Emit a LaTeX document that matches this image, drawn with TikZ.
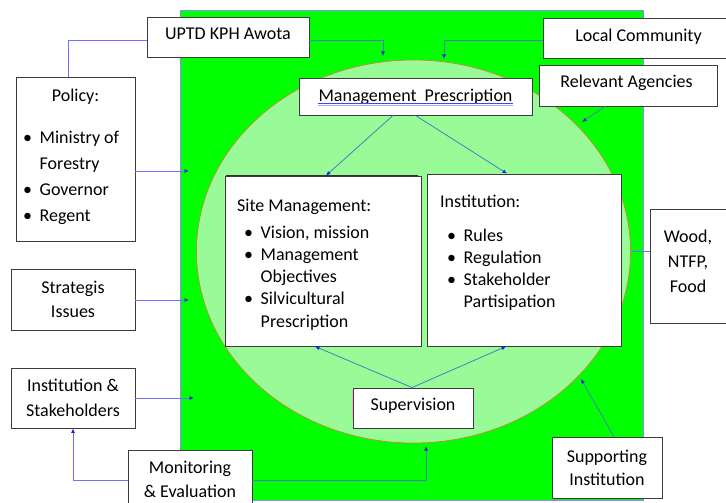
\documentclass[tikz,border=0pt]{standalone}
\usepackage{fontspec}
\setmainfont{Carlito}
\usetikzlibrary{shapes.geometric,arrows.meta,calc}

\definecolor{fieldgreen}{HTML}{00FF00}
\definecolor{coregreen}{HTML}{98FB98}
\definecolor{rim}{HTML}{C8863C}
\definecolor{violetlink}{HTML}{7070FF}
\definecolor{steellink}{HTML}{4A7EBB}
\definecolor{tipblue}{HTML}{1E1EE6}
\definecolor{boxline}{HTML}{3C3C3C}

% bullet item helpers
\newcommand\bl{\makebox[16.5pt][l]{\textbullet}}
\newcommand\ind{\hspace*{16.5pt}}

\begin{document}
\begin{tikzpicture}[x=1pt,y=-1pt,
  box/.style={draw=boxline, line width=0.9pt, fill=white, inner sep=0pt},
  txt/.style={inner sep=0pt, text=black},
  vlink/.style={draw=violetlink, line width=0.8pt},
  slink/.style={draw=steellink, line width=0.8pt},
  tip/.style={-{Latex[length=4.5pt,width=4pt,color=tipblue]}},
]
\useasboundingbox (0,0) rectangle (726,503);
\fill[white] (0,0) rectangle (726,503);

% management area and its core
\node[draw=blue!45, line width=0.6pt, fill=fieldgreen, minimum width=463pt,
      minimum height=490pt, inner sep=0pt] (field) at (411.5,255) {};
\node[ellipse, draw=rim, line width=0.7pt, fill=coregreen, minimum width=434pt,
      minimum height=383pt, inner sep=0pt] (core) at (413.5,251.5) {};

% boxes
\node[box, minimum width=162pt, minimum height=40pt] (uptd)    at (228,37) {};
\node[box, minimum width=187pt, minimum height=40pt] (local)   at (636.5,38) {};
\node[box, minimum width=178pt, minimum height=41pt] (relev)   at (628,85.5) {};
\node[box, minimum width=233pt, minimum height=37pt] (mp)      at (415.5,96.5) {};
\node[box, minimum width=119pt, minimum height=164pt] (policy) at (75.5,159) {};
\node[box, minimum width=196pt, minimum height=170pt] (site)   at (323,261) {};
\node[box, minimum width=194pt, minimum height=172pt] (inst)   at (524,260) {};
\node[box, minimum width=85pt, minimum height=114pt] (wood)    at (692.5,266) {};
\node[box, minimum width=124pt, minimum height=61pt] (strat)   at (73,299.5) {};
\node[box, minimum width=124pt, minimum height=60pt] (instk)   at (73,398) {};
\node[box, minimum width=124pt, minimum height=65pt] (monit)   at (190,482.5) {};
\node[box, minimum width=120pt, minimum height=40pt] (superv)  at (413,408) {};
\node[box, minimum width=110pt, minimum height=61pt] (support) at (607,467.5) {};

% edge accents
\draw[line width=1.8pt, black!80] ($(site.north west)+(1,0)$) -- ($(site.north east)+(-3,0)$);
\draw[magenta!35, line width=0.8pt] ($(superv.north west)+(0,2)$) -- ($(superv.south west)+(0,-10)$);

% labels
\node[txt, font=\fontsize{18}{22}\selectfont, anchor=base] (uptdT) at (228,40) {UPTD KPH Awota};
\node[txt, font=\fontsize{18}{22}\selectfont, anchor=base] (localT) at (638.5,42) {Local Community};
\node[txt, font=\fontsize{18}{22}\selectfont, anchor=base] (relevT) at (626.5,88) {Relevant Agencies};
\node[txt, font=\fontsize{18}{22}\selectfont, anchor=base] (mpT) at (415.5,101) {Management\ \ Prescription};
\draw[blue!75, line width=0.7pt] ($(mpT.base west)+(0,2.5)$) -- ($(mpT.base east)+(0,2.5)$);
\draw[blue!35, line width=0.6pt] ($(mpT.base west)+(0,4.5)$) -- ($(mpT.base east)+(0,4.5)$);

\node[txt, font=\fontsize{18}{22}\selectfont, anchor=base] (policyT) at (75.5,101) {Policy:};
\node[txt, font=\fontsize{18}{26}\selectfont, anchor=base west] (policyL) at (23,143)
  {\parbox[t]{112pt}{\raggedright\bl Ministry of\\\ind Forestry\\\bl Governor\\\bl Regent}};

\node[txt, font=\fontsize{18}{22}\selectfont, anchor=base west] (siteT) at (237,211) {Site Management:};
\node[txt, font=\fontsize{18}{22.3}\selectfont, anchor=base west] (siteL) at (244,238)
  {\parbox[t]{175pt}{\raggedright\bl Vision, mission\\\bl Management\\\ind Objectives\\\bl Silvicultural\\\ind Prescription}};

\node[txt, font=\fontsize{18}{22}\selectfont, anchor=base west] (instT) at (440,207) {Institution:};
\node[txt, font=\fontsize{18}{22.3}\selectfont, anchor=base west] (instL) at (447,241)
  {\parbox[t]{170pt}{\raggedright\bl Rules\\\bl Regulation\\\bl Stakeholder\\\ind Partisipation}};

\node[txt, font=\fontsize{18}{25}\selectfont, anchor=base] (woodT) at (688,242)
  {\parbox[t]{80pt}{\centering Wood,\\NTFP,\\Food}};
\node[txt, font=\fontsize{18}{24}\selectfont, anchor=base] (stratT) at (73,293)
  {\parbox[t]{120pt}{\centering Strategis\\Issues}};
\node[txt, font=\fontsize{18}{25}\selectfont, anchor=base] (instkT) at (73,391)
  {\parbox[t]{120pt}{\centering Institution \&\\Stakeholders}};
\node[txt, font=\fontsize{18}{24}\selectfont, anchor=base] (monitT) at (190,473)
  {\parbox[t]{120pt}{\centering Monitoring\\\& Evaluation}};
\node[txt, font=\fontsize{18}{22}\selectfont, anchor=base] (supervT) at (413,410) {Supervision};
\node[txt, font=\fontsize{18}{23}\selectfont, anchor=base] (supportT) at (607,462)
  {\parbox[t]{108pt}{\centering Supporting\\Institution}};

% free ends of the connectors
\coordinate (uptdIn) at (383,56);
\coordinate (localIn) at (444,59);
\coordinate (relevIn) at (582,122);
\coordinate (policyIn) at (189,171);
\coordinate (stratIn) at (189,300);
\coordinate (instkIn) at (194,398);
\coordinate (monitIn) at (426,446);
\coordinate (supportIn) at (581,379);

% connectors
\draw[vlink] ($(policy.north)+(-7.5,0)$) |- ($(uptd.west)+(0,3)$);
\draw[slink,tip] ($(uptd.east)+(0,3)$) -| (uptdIn);
\draw[slink,tip] ($(local.west)+(0,2)$) -| (localIn);
\draw[slink,tip] ($(relev.south)+(-23,0)$) -- (relevIn);
\draw[slink,tip] ($(mp.south)+(-22.5,0)$) -- ($(site.north)+(3,0)$);
\draw[slink,tip] (mp.south) -- ($(inst.north)+(-17,0)$);
\draw[vlink,tip] (policy.east |- policyIn) -- (policyIn);
\draw[vlink,tip] (strat.east |- stratIn) -- (stratIn);
\draw[vlink,tip] (instk.east |- instkIn) -- (instkIn);
\draw[vlink,tip] ($(monit.west)+(0,-2.5)$) -| (instk.south);
\draw[slink,tip] ($(monit.east)+(0,-2.5)$) -| (monitIn);
\draw[slink,tip] ($(superv.north)+(-1,0)$) -- ($(site.south)+(-8,0)$);
\draw[slink,tip] ($(superv.north)+(-1,0)$) -- ($(inst.south)+(-18,0)$);
\draw[slink,tip] ($(support.north)+(7,0)$) -- (supportIn);
\draw[vlink] (core.east) -- (wood.west |- core.east);
\end{tikzpicture}
\end{document}
